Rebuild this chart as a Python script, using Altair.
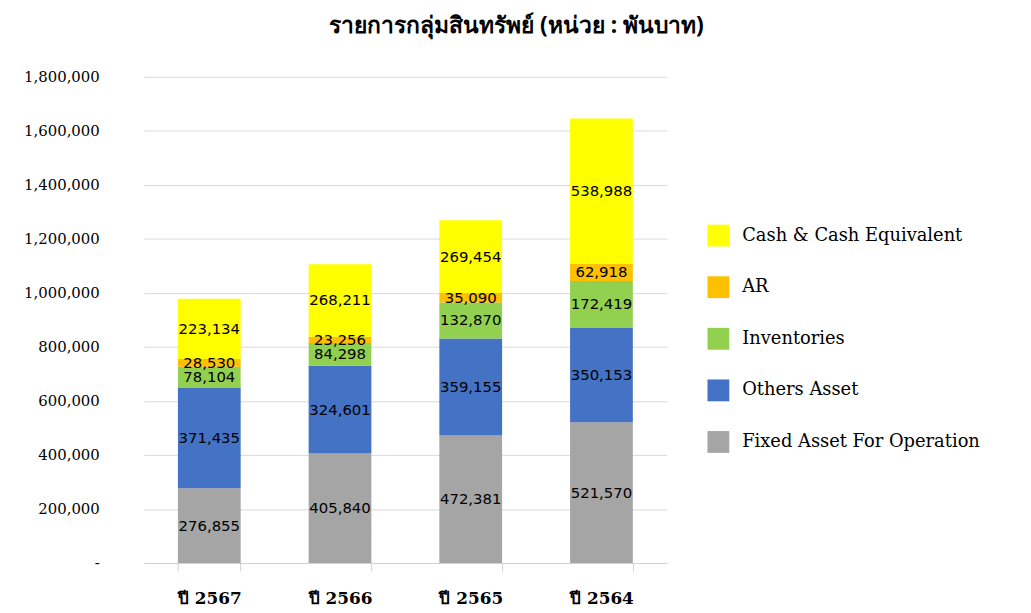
import altair as alt
import pandas as pd

years = ["ปี 2567", "ปี 2566", "ปี 2565", "ปี 2564"]
categories = ["Cash & Cash Equivalent", "AR", "Inventories", "Others Asset", "Fixed Asset For Operation"]
colors = ["#FFFF00", "#FFC000", "#92D050", "#4472C4", "#A5A5A5"]

fixed_asset = [276855, 405840, 472381, 521570]
others_asset = [371435, 324601, 359155, 350153]
inventories = [78104, 84298, 132870, 172419]
ar = [28530, 23256, 35090, 62918]
cash = [223134, 268211, 269454, 538988]

y_ticks = [0, 200000, 400000, 600000, 800000, 1000000, 1200000, 1400000, 1600000, 1800000]

# stack order: bottom first
stack_series = [
    ("Fixed Asset For Operation", fixed_asset),
    ("Others Asset", others_asset),
    ("Inventories", inventories),
    ("AR", ar),
    ("Cash & Cash Equivalent", cash),
]

rows = []
for si, (name, vals) in enumerate(stack_series):
    for yr, v in zip(years, vals):
        rows.append({"year": yr, "category": name, "value": v, "order": si})
df = pd.DataFrame(rows)

base = alt.Chart(df).transform_stack(
    stack="value",
    groupby=["year"],
    sort=[alt.SortField("order", order="ascending")],
    as_=["y0", "y1"],
).transform_calculate(mid="(datum.y0 + datum.y1) / 2")

x_enc = alt.X(
    "year:N",
    sort=years,
    title=None,
    scale=alt.Scale(paddingInner=0.52, paddingOuter=0.26),
    axis=alt.Axis(
        tickBand="extent",
        ticks=True,
        tickSize=8,
        tickColor="#D0D0D0",
        domainColor="#D0D0D0",
        labelFont="DejaVu Serif",
        labelFontSize=17,
        labelFontWeight="bold",
        labelColor="#000000",
        labelPadding=20,
        labelAngle=0,
    ),
)

y_scale = alt.Scale(domain=[0, 1800000])
y_axis = alt.Axis(
    values=y_ticks,
    labelExpr="datum.value == 0 ? '-' : format(datum.value, ',')",
    domain=False,
    ticks=False,
    grid=True,
    gridColor="#D9D9D9",
    labelFont="DejaVu Serif",
    labelFontSize=15,
    labelColor="#000000",
    labelPadding=45,
    title=None,
)

bars = base.mark_bar().encode(
    x=x_enc,
    y=alt.Y("y0:Q", scale=y_scale, axis=y_axis),
    y2="y1:Q",
    color=alt.Color(
        "category:N",
        scale=alt.Scale(domain=categories, range=colors),
        legend=alt.Legend(
            title=None,
            orient="none",
            legendX=568,
            legendY=149,
            symbolType="square",
            symbolSize=484,
            symbolStrokeWidth=0,
            symbolOpacity=1,
            labelFont="DejaVu Serif",
            labelFontSize=18,
            labelColor="#000000",
            labelOffset=13,
            rowPadding=30,
            labelLimit=400,
        ),
    ),
)

labels = base.mark_text(
    font="DejaVu Sans", fontSize=15, color="#000000", baseline="middle", align="center"
).encode(
    x=alt.X("year:N", sort=years),
    y=alt.Y("mid:Q", scale=y_scale),
    text=alt.Text("value:Q", format=","),
)

chart = (
    alt.layer(bars, labels)
    .properties(
        width=527,
        height=490,
        autosize=alt.AutoSizeParams(type="none"),
        padding={"left": 137, "top": 67, "right": 359, "bottom": 48},
        title=alt.TitleParams(
            "รายการกลุ่มสินทรัพย์ (หน่วย : พันบาท)",
            anchor="middle",
            frame="group",
            dx=112,
            offset=32,
            font="Noto Sans",
            fontSize=23,
            fontWeight="bold",
            color="#000000",
        ),
    )
    .configure_view(stroke=None)
)

chart.save("out.html", embed_options={"renderer": "svg", "actions": False})
